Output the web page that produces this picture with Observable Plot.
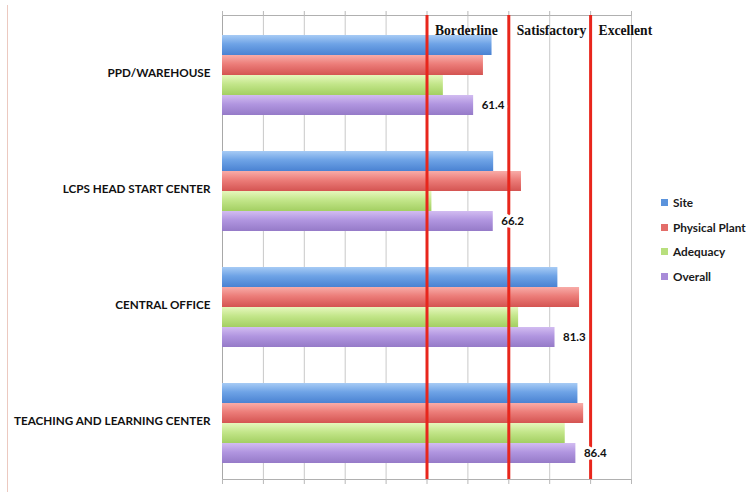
<!DOCTYPE html>
<html>
<head>
<meta charset="utf-8">
<script src="https://cdn.jsdelivr.net/npm/d3@7"></script>
<script src="https://cdn.jsdelivr.net/npm/@observablehq/plot@0.6"></script>
<style>
  html, body { margin: 0; padding: 0; background: #fff; }
  #chart { position: relative; width: 752px; height: 492px; overflow: hidden; }
  #edge { position: absolute; left: 7px; top: 5px; bottom: 0; width: 1px; background: #ecc9c0; }
  #legend { position: absolute; left: 661px; top: 190px; font-family: Lato, sans-serif; font-weight: bold; font-size: 11.8px; color: #1a1a1a; }
  #legend .item { display: flex; align-items: center; height: 24.7px; }
  #legend .sw { width: 7px; height: 7px; margin-right: 5px; }
</style>
</head>
<body>
<div id="chart"><div id="edge"></div></div>
<script>
// Facilities evaluated, top to bottom
const categories = ["PPD/WAREHOUSE", "LCPS HEAD START CENTER", "CENTRAL OFFICE", "TEACHING AND LEARNING CENTER"];
// Score components drawn within each facility
const series = ["Site", "Physical Plant", "Adequacy", "Overall"];
const site = [65.9, 66.3, 82.0, 86.9];
const physicalPlant = [63.8, 73.1, 87.3, 88.3];
const adequacy = [54.0, 51.2, 72.4, 83.8];
const overall = [61.4, 66.2, 81.3, 86.4];
// Rating thresholds
const thresholds = [50, 70, 90];
const thresholdLabels = ["Borderline", "Satisfactory", "Excellent"];
const xTicks = [0, 10, 20, 30, 40, 50, 60, 70, 80, 90, 100];

// Bar gradients (light top, darker bottom) and flat legend swatches
const gradientStops = [
  ["#a7cbf5", "#6ea3e6", "#4a82d2"],
  ["#f8aca8", "#ec7d79", "#d45452"],
  ["#e6f7bd", "#c3e68a", "#a3cf62"],
  ["#d2bcf1", "#b196e0", "#957ac8"]
];
const swatches = ["#5b93dc", "#e36d69", "#b8df7d", "#a88bd8"];

const valuesBySeries = [site, physicalPlant, adequacy, overall];
const rows = categories.flatMap((category, i) =>
  series.map((s, j) => ({category, series: s, value: valuesBySeries[j][i]}))
);
const overallRows = rows.filter(d => d.series === "Overall");
const thresholdRows = thresholds.map((x, i) => ({x, label: thresholdLabels[i], category: categories[0]}));

const chart = Plot.plot({
  width: 752,
  height: 492,
  marginLeft: 222,
  marginRight: 121,
  marginTop: 13,
  marginBottom: 12,
  style: {fontFamily: "Lato, sans-serif", fontSize: "11px", background: "transparent"},
  x: {domain: [0, 100], axis: null},
  fy: {domain: categories, padding: 0, axis: null},
  y: {domain: series, paddingInner: 0, paddingOuter: 0.78, align: 0.55, axis: null},
  color: {domain: series, range: series.map((s, i) => `url(#bar-grad-${i})`)},
  marks: [
    Plot.gridX(xTicks, {stroke: "#c9c9c9", strokeOpacity: 1}),
    Plot.frame({anchor: "top", facetAnchor: "top", stroke: "#b0b0b0"}),
    Plot.frame({anchor: "bottom", facetAnchor: "bottom", stroke: "#b0b0b0"}),
    Plot.frame({anchor: "left", stroke: "#a8a8a8"}),
    Plot.axisX(xTicks, {anchor: "top", tickSize: 5, tickFormat: () => "", stroke: "#b8b8b8"}),
    Plot.axisX(xTicks, {anchor: "bottom", tickSize: 5, tickFormat: () => "", stroke: "#b8b8b8"}),
    Plot.axisFy({anchor: "left", tickSize: 0, tickPadding: 12, label: null, fill: "#111", fontWeight: "bold", fontSize: 11.7}),
    Plot.barX(rows, {x: "value", y: "series", fy: "category", fill: "series"}),
    Plot.ruleX(thresholds, {stroke: "#e8261c", strokeWidth: 3}),
    Plot.text(thresholdRows, {
      fy: "category", x: "x", text: "label", frameAnchor: "top", dy: 9.5, dx: 8,
      textAnchor: "start", fontFamily: "'Liberation Serif', serif", fontWeight: "bold", fontSize: 13.6, fill: "#111"
    }),
    Plot.text(overallRows, {
      x: "value", y: "series", fy: "category", text: d => d.value.toFixed(1),
      dx: 8, textAnchor: "start", fontWeight: "bold", fontSize: 11.5, fill: "#111",
      stroke: "white", strokeWidth: 6
    })
  ]
});

// Vertical gradients referenced by the bar fills
const defs = d3.select(chart).insert("defs", ":first-child");
gradientStops.forEach((stops, i) => {
  const g = defs.append("linearGradient")
    .attr("id", `bar-grad-${i}`).attr("x1", 0).attr("y1", 0).attr("x2", 0).attr("y2", 1);
  g.append("stop").attr("offset", "0%").attr("stop-color", stops[0]);
  g.append("stop").attr("offset", "45%").attr("stop-color", stops[1]);
  g.append("stop").attr("offset", "100%").attr("stop-color", stops[2]);
});

const container = document.getElementById("chart");
container.appendChild(chart);

// Series legend on the right
const legend = document.createElement("div");
legend.id = "legend";
series.forEach((s, i) => {
  const item = document.createElement("div");
  item.className = "item";
  const sw = document.createElement("span");
  sw.className = "sw";
  sw.style.background = swatches[i];
  item.appendChild(sw);
  item.appendChild(document.createTextNode(s));
  legend.appendChild(item);
});
container.appendChild(legend);
</script>
</body>
</html>
